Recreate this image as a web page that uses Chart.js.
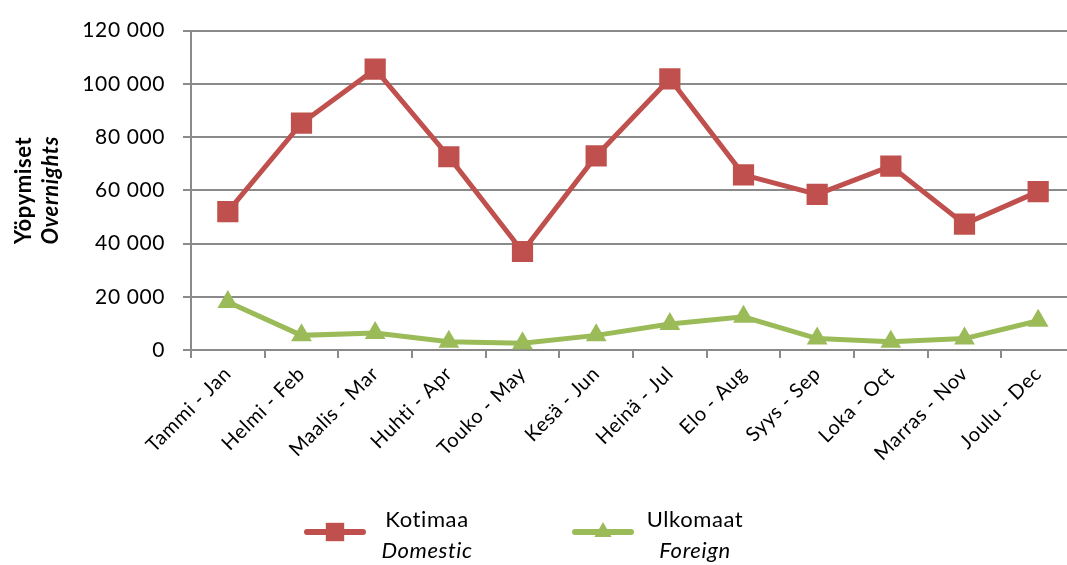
<!DOCTYPE html>
<html>
<head>
<meta charset="utf-8">
<script src="https://cdn.jsdelivr.net/npm/chart.js@4"></script>
<style>
  html, body { margin: 0; padding: 0; background: #fff; overflow: hidden; }
  #wrap { width: 1067px; height: 565px; overflow: hidden; }
</style>
</head>
<body>
<div id="wrap"><canvas id="stayChart" width="1090" height="565"></canvas></div>
<script>
// months (Finnish - English)
const months = ['Tammi - Jan', 'Helmi - Feb', 'Maalis - Mar', 'Huhti - Apr', 'Touko - May', 'Kesä - Jun',
    'Heinä - Jul', 'Elo - Aug', 'Syys - Sep', 'Loka - Oct', 'Marras - Nov', 'Joulu - Dec'];

const domestic = [52000, 85200, 105500, 72600, 37000, 72900, 101900, 65800, 58500, 69100, 47300, 59500];
const foreign = [18000, 5500, 6400, 3100, 2500, 5500, 9800, 12500, 4300, 3100, 4300, 11000];

const seriesFi = ['Kotimaa', 'Ulkomaat'];
const seriesEn = ['Domestic', 'Foreign'];
const axisTitle = ['Yöpymiset', 'Overnights'];
const yTicks = [0, 20000, 40000, 60000, 80000, 100000, 120000];

const FONT = 'Lato, "Open Sans", sans-serif';
const gridColor = '#8a8a8a';

function fmt(v) {
    return String(v).replace(/\B(?=(\d{3})+(?!\d))/g, ' ');
}

// the original text is set a bit wider than Lato
const spacingPlugin = {
    id: 'spacing',
    beforeLayout(chart) { chart.ctx.letterSpacing = '0.6px'; },
    beforeDraw(chart) { chart.ctx.letterSpacing = '0.6px'; }
};

// y axis title, two lines (second italic)
const yTitlePlugin = {
    id: 'yTitle',
    afterDraw(chart) {
        const ctx = chart.ctx;
        const cy = (chart.chartArea.top + chart.chartArea.bottom) / 2;
        ctx.save();
        ctx.fillStyle = '#000';
        ctx.textAlign = 'center';
        ctx.textBaseline = 'middle';
        ctx.translate(24, cy);
        ctx.rotate(-Math.PI / 2);
        ctx.font = 'bold 22px ' + FONT;
        ctx.fillText(axisTitle[0], 0, 0);
        ctx.font = 'italic bold 22px ' + FONT;
        ctx.fillText(axisTitle[1], 0, 27);
        ctx.restore();
    }
};

// legend at the bottom with two-line labels
const legendPlugin = {
    id: 'twoLineLegend',
    afterDraw(chart) {
        const ctx = chart.ctx;
        const starts = [307, 575];
        const y = 532;
        chart.data.datasets.forEach(function(ds, i) {
            const x0 = starts[i];
            ctx.save();
            ctx.strokeStyle = ds.borderColor;
            ctx.lineWidth = 6;
            ctx.lineCap = 'round';
            ctx.beginPath();
            ctx.moveTo(x0, y);
            ctx.lineTo(x0 + 56, y);
            ctx.stroke();
            ctx.fillStyle = ds.pointBackgroundColor;
            ctx.strokeStyle = ds.pointBackgroundColor;
            Chart.helpers.drawPoint(ctx, {
                pointStyle: ds.pointStyle,
                rotation: 0,
                borderWidth: 0,
                radius: ds.pointStyle === 'rect' ? 13 : 10
            }, x0 + 28, y);
            ctx.fillStyle = '#000';
            ctx.textAlign = 'center';
            ctx.textBaseline = 'middle';
            const tx = x0 + 120;
            ctx.font = '22px ' + FONT;
            ctx.fillText(seriesFi[i], tx, 520);
            ctx.font = 'italic 22px ' + FONT;
            ctx.fillText(seriesEn[i], tx, 551);
            ctx.restore();
        });
    }
};

new Chart(document.getElementById('stayChart'), {
    type: 'line',
    data: {
        labels: months,
        datasets: [{
            label: seriesFi[0] + ' ' + seriesEn[0],
            data: domestic,
            borderColor: '#C0504D',
            backgroundColor: '#C0504D',
            pointBackgroundColor: '#C0504D',
            pointBorderColor: '#C0504D',
            borderWidth: 5,
            pointStyle: 'rect',
            pointRadius: 15,
            pointBorderWidth: 0,
            tension: 0
        }, {
            label: seriesFi[1] + ' ' + seriesEn[1],
            data: foreign,
            borderColor: '#9BBB59',
            backgroundColor: '#9BBB59',
            pointBackgroundColor: '#9BBB59',
            pointBorderColor: '#9BBB59',
            borderWidth: 5,
            pointStyle: 'triangle',
            pointRadius: 12,
            pointBorderWidth: 0,
            tension: 0
        }]
    },
    options: {
        responsive: false,
        animation: false,
        layout: { padding: { top: 25, right: 12, left: 0, bottom: 0 } },
        plugins: {
            legend: { display: false },
            tooltip: { enabled: false }
        },
        scales: {
            x: {
                offset: true,
                grid: {
                    offset: true,
                    drawOnChartArea: false,
                    drawTicks: true,
                    tickLength: 8,
                    color: gridColor,
                    lineWidth: 2
                },
                border: { color: gridColor, width: 2 },
                ticks: {
                    autoSkip: false,
                    minRotation: 45,
                    maxRotation: 45,
                    padding: 4,
                    color: '#000',
                    font: { family: FONT, size: 20 }
                },
                afterFit(scale) { scale.height = 215; }
            },
            y: {
                min: 0,
                max: 120000,
                afterBuildTicks(scale) {
                    scale.ticks = yTicks.map(function(v) { return { value: v }; });
                },
                grid: {
                    color: gridColor,
                    lineWidth: 2,
                    tickLength: 8
                },
                border: { color: gridColor, width: 2 },
                ticks: {
                    padding: 18,
                    color: '#000',
                    font: { family: FONT, size: 21 },
                    callback: function(v) { return fmt(v); }
                },
                afterFit(scale) { scale.width = 191; }
            }
        }
    },
    plugins: [spacingPlugin, yTitlePlugin, legendPlugin]
});
</script>
</body>
</html>
